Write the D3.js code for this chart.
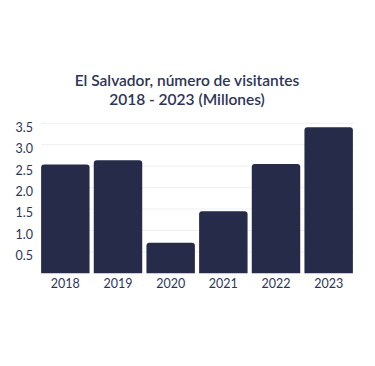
<!DOCTYPE html>
<html>
<head>
<meta charset="utf-8">
<script src="https://cdn.jsdelivr.net/npm/d3@7"></script>
<style>
  body { margin: 0; background: #fff; }
  svg { display: block; font-family: Lato, "Open Sans", sans-serif; }
</style>
</head>
<body>
<svg id="chart" width="375" height="366"></svg>
<script>
// Data
const years = ['2018', '2019', '2020', '2021', '2022', '2023'];
const visitors = [2.54, 2.64, 0.71, 1.45, 2.55, 3.41];
const yTicks = [0.5, 1.0, 1.5, 2.0, 2.5, 3.0, 3.5];
const titleLines = ['El Salvador, número de visitantes', '2018 - 2023 (Millones)'];

const svg = d3.select('#chart');
const barColor = '#262b4a';
const textColor = '#2d3556';

const x = d3.scaleBand()
  .domain(years)
  .range([39, 355])
  .paddingInner(0.08)
  .paddingOuter(0.04);

const y = d3.scaleLinear()
  .domain([0, 3.5])
  .range([273.3, 123.3]);

// Title (two lines)
svg.append('g')
  .selectAll('text')
  .data(titleLines)
  .join('text')
  .attr('x', 187)
  .attr('y', (d, i) => 86 + i * 19)
  .attr('text-anchor', 'middle')
  .attr('fill', textColor)
  .style('font-size', '15.5px')
  .style('font-weight', 600)
  .text(d => d);

// Gridlines
svg.append('g')
  .selectAll('line')
  .data(yTicks)
  .join('line')
  .attr('x1', 41)
  .attr('x2', 354)
  .attr('y1', d => y(d))
  .attr('y2', d => y(d))
  .attr('stroke', '#eeeff2')
  .attr('stroke-width', 1);

// Y labels
svg.append('g')
  .selectAll('text')
  .data(yTicks)
  .join('text')
  .attr('x', 33)
  .attr('y', d => y(d) + 4)
  .attr('dy', '0.35em')
  .attr('text-anchor', 'end')
  .attr('fill', textColor)
  .style('font-size', '12.5px')
  .text(d => d3.format('.1f')(d));

// Bars with slightly rounded tops
const r = 3;
svg.append('g')
  .selectAll('path')
  .data(years.map((yr, i) => ({ yr, v: visitors[i] })))
  .join('path')
  .attr('fill', barColor)
  .attr('d', d => {
    const x0 = x(d.yr), w = x.bandwidth();
    const y0 = y(d.v), yb = y(0);
    return `M${x0},${yb}V${y0 + r}Q${x0},${y0} ${x0 + r},${y0}` +
      `H${x0 + w - r}Q${x0 + w},${y0} ${x0 + w},${y0 + r}V${yb}Z`;
  });

// X labels
svg.append('g')
  .selectAll('text')
  .data(years)
  .join('text')
  .attr('x', d => x(d) + x.bandwidth() / 2)
  .attr('y', 288)
  .attr('text-anchor', 'middle')
  .attr('fill', textColor)
  .style('font-size', '12.5px')
  .text(d => d);
</script>
</body>
</html>
